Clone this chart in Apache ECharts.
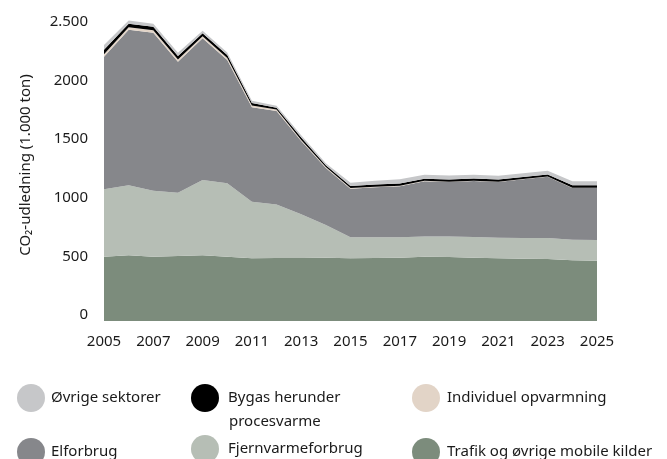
<!DOCTYPE html>
<html>
<head>
<meta charset="utf-8">
<script src="https://cdn.jsdelivr.net/npm/echarts@6/dist/echarts.min.js"></script>
<style>
html,body{margin:0;padding:0;background:#fff;}
#chart{width:667px;height:459px;}
</style>
</head>
<body>
<div id="chart"></div>
<script>
const years = ['2005','2006','2007','2008','2009','2010','2011','2012','2013','2014','2015','2016','2017','2018','2019','2020','2021','2022','2023','2024','2025'];
const trafik = [549,560,549,555,560,549,535,538,538,540,535,537,540,549,546,540,535,532,529,518,515];
const fjernvarme = [575,598,563,540,643,626,483,457,372,279,179,177,174,173,176,177,176,176,179,176,176];
const elforbrug = [1131,1327,1348,1117,1209,1052,805,797,625,486,415,427,435,470,464,477,475,501,523,441,444];
const individuel = [22,22,20,20,18,17,15,12,10,8,5,4,4,4,3,3,3,3,3,3,3];
const bygas = [38,30,30,30,25,25,22,16,20,16,18,20,20,18,18,18,18,17,17,20,20];
const ovrige = [40,28,27,27,22,21,20,17,20,18,28,32,36,34,34,33,33,31,31,34,34];
const yTicks = [0,500,1000,1500,2000,2500];
const yTickLabels = ['0','500','1000','1500','2000','2.500'];

const FONT = "'Noto Sans', 'Open Sans', sans-serif";
const TXT = '#1a1a1a';

const seriesDefs = [
  {name:'Trafik og øvrige mobile kilder', data:trafik, color:'#7c8c7c'},
  {name:'Fjernvarmeforbrug', data:fjernvarme, color:'#b6beb5'},
  {name:'Elforbrug', data:elforbrug, color:'#86878b'},
  {name:'Individuel opvarmning', data:individuel, color:'#e2d4c7'},
  {name:'Bygas herunder procesvarme', data:bygas, color:'#000000'},
  {name:'Øvrige sektorer', data:ovrige, color:'#c6c7c9'}
];

const series = seriesDefs.map(s => ({
  name: s.name,
  type: 'line',
  stack: 'total',
  data: s.data,
  showSymbol: false,
  symbolSize: 0,
  clip: false,
  smooth: false,
  lineStyle: {width: 0, color: s.color},
  itemStyle: {color: s.color},
  areaStyle: {color: s.color, opacity: 1},
  emphasis: {disabled: true},
  animation: false
}));

// legend layout: [name, circle center x, circle center y, label, text left padding]
const legendPos = [
  ['Øvrige sektorer', 31, 398, 'Øvrige sektorer', 1],
  ['Bygas herunder procesvarme', 205, 398, 'Bygas herunder', 4],
  ['Individuel opvarmning', 426, 398, 'Individuel opvarmning', 2],
  ['Elforbrug', 31, 452, 'Elforbrug', 1],
  ['Fjernvarmeforbrug', 205, 449, 'Fjernvarmeforbrug', 4],
  ['Trafik og øvrige mobile kilder', 426, 452, 'Trafik og øvrige mobile kilder', 2]
];
const R = 14;
const legends = legendPos.map(l => ({
  data: [l[0]],
  left: l[1] - R,
  top: l[2] - R,
  padding: 0,
  icon: 'circle',
  itemWidth: 2*R,
  itemHeight: 2*R,
  selectedMode: false,
  formatter: () => l[3],
  textStyle: {fontFamily: FONT, fontSize: 15, color: TXT, padding: [0,0,0,l[4]]}
}));

const chart = echarts.init(document.getElementById('chart'), null, {renderer: 'canvas'});
chart.setOption({
  animation: false,
  backgroundColor: '#ffffff',
  grid: {left: 104, right: 70, top: 28, bottom: 138, containLabel: false},
  xAxis: {
    type: 'category',
    data: years,
    boundaryGap: false,
    axisLine: {show: false},
    axisTick: {show: false},
    splitLine: {show: false},
    axisLabel: {interval: 1, margin: 13, fontFamily: FONT, fontSize: 15, color: TXT}
  },
  yAxis: {
    type: 'value',
    min: 0, max: 2500, interval: 500,
    axisLine: {show: false},
    axisTick: {show: false},
    splitLine: {show: false},
    axisLabel: {
      margin: 16, fontFamily: FONT, fontSize: 15, color: TXT,
      verticalAlign: 'bottom', lineHeight: 12,
      formatter: v => yTickLabels[yTicks.indexOf(v)]
    }
  },
  legend: legends,
  graphic: [
    {type: 'text', x: 26, y: 165, rotation: Math.PI/2,
     style: {text: 'CO₂-udledning (1.000 ton)', font: '15px ' + FONT, fill: TXT, align: 'center', verticalAlign: 'middle'}},
    {type: 'text', x: 229, y: 422,
     style: {text: 'procesvarme', font: '15px ' + FONT, fill: TXT, align: 'left', verticalAlign: 'middle'}}
  ],
  series: series
});
</script>
</body>
</html>
